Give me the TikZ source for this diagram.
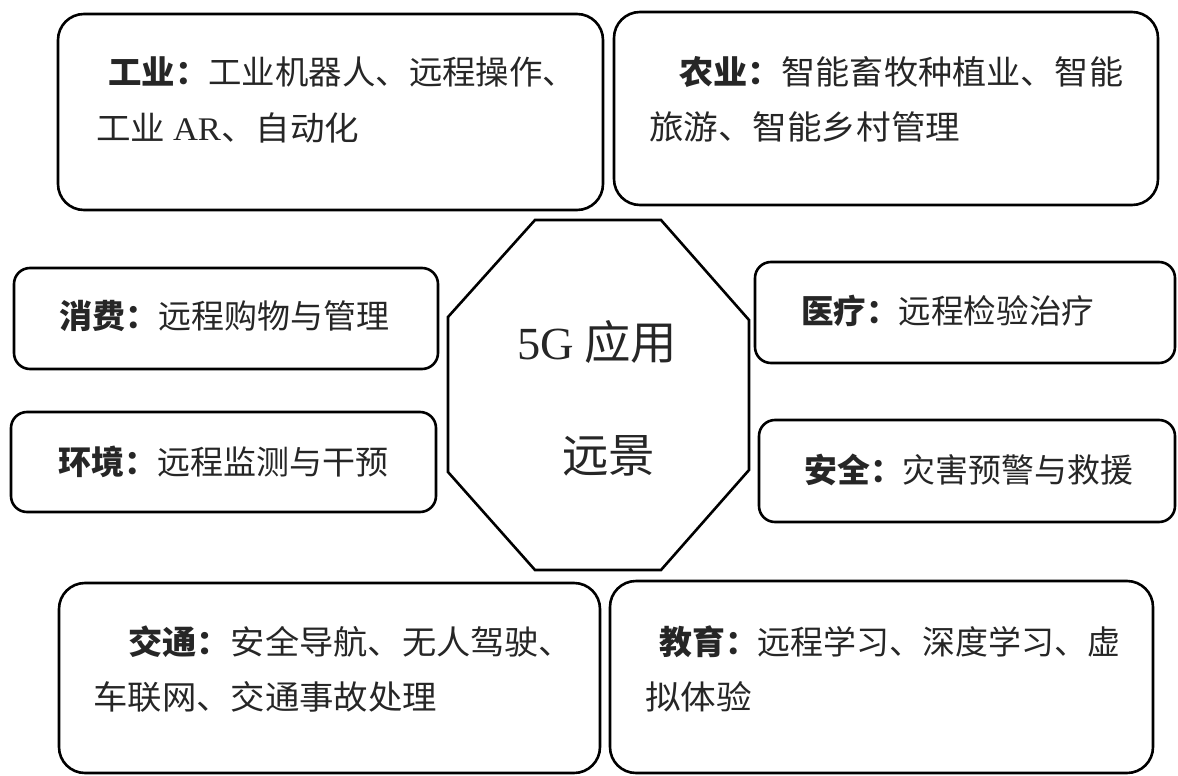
\documentclass[tikz,border=0pt]{standalone}
\usepackage{graphicx}
\usepackage{fontspec}
\setmainfont{Liberation Serif}
\newfontfamily\cjk{Noto Sans CJK SC}
\newcommand{\fitw}[2]{\resizebox{#1}{\height}{#2}}
\tikzset{
  bigbox/.style={draw=black, line width=2.6pt, rounded corners=26pt, inner sep=0pt, outer sep=0pt},
  sidebox/.style={draw=black, line width=2.6pt, rounded corners=16pt, inner sep=0pt, outer sep=0pt},
  txt/.style={anchor=west, inner sep=0pt, text=black!85, font=\cjk\fontsize{33}{33}\selectfont},
  ctxt/.style={anchor=west, inner sep=0pt, text=black!85, font=\cjk\fontsize{46}{46}\selectfont},
  octo/.style={draw=black, line width=2.6pt, line join=miter}
}
\begin{document}
\begin{tikzpicture}[x=1pt,y=-1pt]
\useasboundingbox (0,0) rectangle (1178,776);
% boxes
\node[bigbox, minimum width=545pt, minimum height=196pt] (ind) at (330.5,112) {};
\node[bigbox, minimum width=544pt, minimum height=193pt] (agr) at (886,108.5) {};
\node[sidebox, minimum width=424pt, minimum height=101pt] (con) at (226,318.5) {};
\node[sidebox, minimum width=425pt, minimum height=100pt] (env) at (223.5,462) {};
\node[sidebox, minimum width=420pt, minimum height=101pt] (med) at (965,312.5) {};
\node[sidebox, minimum width=416pt, minimum height=102pt] (saf) at (967,471) {};
\node[bigbox, minimum width=541pt, minimum height=190pt] (tra) at (329.5,678) {};
\node[bigbox, minimum width=543pt, minimum height=192pt] (edu) at (881.5,677) {};
% octagon
\coordinate (o1) at (535,220);
\coordinate (o2) at (661,220);
\coordinate (o3) at (749,320);
\coordinate (o4) at (749,470);
\coordinate (o5) at (661,570);
\coordinate (o6) at (535,570);
\coordinate (o7) at (448,472);
\coordinate (o8) at (448,317);
\draw[octo] (o1) -- (o2) -- (o3) -- (o4) -- (o5) -- (o6) -- (o7) -- (o8) -- cycle;
\node[ctxt] (c1) at (517,342) {\fitw{160pt}{{\rmfamily 5G} 应用}};
\node[ctxt] (c2) at (562,456) {\fitw{93pt}{远景}};
% texts
\node[txt] (t1a) at (108,72) {\fitw{468pt}{\textbf{工业：}工业机器人、远程操作、}};
\node[txt] (t1b) at (96,128) {\fitw{263pt}{工业 {\rmfamily AR}、自动化}};
\node[txt] (t2a) at (679,72) {\fitw{444pt}{\textbf{农业：}智能畜牧种植业、智能}};
\node[txt] (t2b) at (649,127) {\fitw{311pt}{旅游、智能乡村管理}};
\node[txt] (t3) at (59,316) {\fitw{330pt}{\textbf{消费：}远程购物与管理}};
\node[txt] (t4) at (58,462) {\fitw{330pt}{\textbf{环境：}远程监测与干预}};
\node[txt] (t5) at (801,311) {\fitw{293pt}{\textbf{医疗：}远程检验治疗}};
\node[txt] (t6) at (804,470) {\fitw{329pt}{\textbf{安全：}灾害预警与救援}};
\node[txt] (t7a) at (128,642) {\fitw{445pt}{\textbf{交通：}安全导航、无人驾驶、}};
\node[txt] (t7b) at (93,697) {\fitw{344pt}{车联网、交通事故处理}};
\node[txt] (t8a) at (659,642) {\fitw{461pt}{\textbf{教育：}远程学习、深度学习、虚}};
\node[txt] (t8b) at (645,697) {\fitw{107pt}{拟体验}};
\end{tikzpicture}
\end{document}
